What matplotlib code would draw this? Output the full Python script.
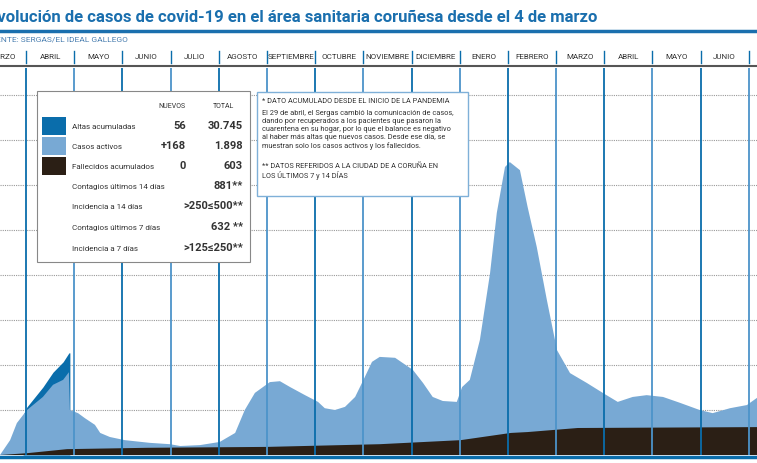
import matplotlib
matplotlib.use("Agg")
import matplotlib.pyplot as plt
from matplotlib.patches import Rectangle
import matplotlib.transforms as mtransforms

plt.rcParams['font.family'] = ['Roboto', 'DejaVu Sans']

# month position (0 = 1 March 2020) and values (thousands)
months = ['MARZO', 'ABRIL', 'MAYO', 'JUNIO', 'JULIO', 'AGOSTO', 'SEPTIEMBRE', 'OCTUBRE',
          'NOVIEMBRE', 'DICIEMBRE', 'ENERO', 'FEBRERO', 'MARZO', 'ABRIL', 'MAYO', 'JUNIO', 'JULIO']

active_x = [0.46, 0.67, 0.81, 0.94, 1.02, 1.35, 1.56, 1.77, 1.89, 1.91, 2.08, 2.22, 2.43, 2.54,
            2.74, 3.05, 3.57, 3.99, 4.20, 4.61, 5.02, 5.34, 5.54, 5.75, 6.06, 6.27, 6.48, 6.79,
            7.06, 7.20, 7.41, 7.62, 7.83, 8.03, 8.18, 8.34, 8.66, 9.03, 9.24, 9.44, 9.65, 9.94,
            10.05, 10.21, 10.42, 10.63, 10.77, 10.94, 11.04, 11.25, 11.41, 11.60, 11.81, 12.02,
            12.29, 12.64, 12.97, 13.28, 13.59, 13.88, 14.22, 14.57, 14.98, 15.25, 15.61, 15.96, 16.17]
active_v = [0, 0.33, 0.71, 0.89, 1.0, 1.29, 1.56, 1.67, 1.84, 1.0, 0.93, 0.82, 0.67, 0.49,
            0.40, 0.33, 0.27, 0.24, 0.20, 0.22, 0.29, 0.49, 1.0, 1.38, 1.62, 1.64, 1.51, 1.33,
            1.18, 1.04, 1.0, 1.07, 1.29, 1.73, 2.07, 2.18, 2.16, 1.89, 1.60, 1.29, 1.20, 1.18,
            1.51, 1.67, 2.56, 4.04, 5.38, 6.40, 6.51, 6.33, 5.51, 4.62, 3.44, 2.33,
            1.82, 1.60, 1.38, 1.18, 1.29, 1.33, 1.29, 1.16, 1.00, 0.93, 1.04, 1.11, 1.27]

altas_x = [0.94, 1.02, 1.35, 1.56, 1.77, 1.89, 1.91]
altas_v = [0.89, 1.07, 1.51, 1.84, 2.07, 2.27, 2.27]

deaths_x = [0.46, 1.02, 1.85, 3.51, 6.0, 8.34, 10.02, 11.06, 11.41, 12.45, 16.17]
deaths_v = [0, 0.04, 0.13, 0.16, 0.18, 0.24, 0.33, 0.49, 0.51, 0.60, 0.62]

legend_rows = [('Altas acumuladas', '56', '30.745'),
               ('Casos activos', '+168', '1.898'),
               ('Fallecidos acumulados', '0', '603'),
               ('Contagios últimos 14 días', '', '881**'),
               ('Incidencia a 14 días', '', '>250≤500**'),
               ('Contagios últimos 7 días', '', '632 **'),
               ('Incidencia a 7 días', '', '>125≤250**')]

notes = ['* DATO ACUMULADO DESDE EL INICIO DE LA PANDEMIA',
         'El 29 de abril, el Sergas cambió la comunicación de casos,\n'
         'dando por recuperados a los pacientes que pasaron la\n'
         'cuarentena en su hogar, por lo que el balance es negativo\n'
         'al haber más altas que nuevos casos. Desde ese día, se\n'
         'muestran solo los casos activos y los fallecidos.',
         '** DATOS REFERIDOS A LA CIUDAD DE A CORUÑA EN\nLOS ÚLTIMOS 7 y 14 DÍAS']

C_LIGHT = '#78a9d4'
C_DARK = '#0a6dab'
C_BROWN = '#2b1f15'
C_TITLE = '#1a6fae'

W, H = 757, 463
fig = plt.figure(figsize=(W / 100, H / 100), dpi=100)

def fx(px):
    return px / W

def fy(py):
    return 1 - py / H

ax = fig.add_axes([0, fy(455), 1, fy(68) - fy(455)])
ax.set_xlim(0.46, 16.17)
ax.set_ylim(0, 8.6)
ax.axis('off')

for v in range(1, 9):
    ax.axhline(v, color='#999999', lw=0.8, ls=(0, (1, 1)), zorder=1)

ax.fill_between(altas_x, 0, altas_v, color=C_DARK, lw=0, zorder=2)
ax.fill_between(active_x, 0, active_v, color=C_LIGHT, lw=0, zorder=3)
ax.fill_between(deaths_x, 0, deaths_v, color=C_BROWN, lw=0, zorder=4)

for m in range(1, 17):
    ax.axvline(m, color=C_DARK if m % 2 else '#4c93c9', lw=1.3, zorder=5)

# header
fig.text(fx(-12), fy(18), 'Evolución de casos de covid-19 en el área sanitaria coruñesa desde el 4 de marzo',
         color=C_TITLE, fontsize=12, fontweight='bold', va='center', ha='left')
fig.add_artist(plt.Line2D([0, 1], [fy(31), fy(31)], color=C_TITLE, lw=2.5))
fig.text(fx(-14), fy(39), 'FUENTE: SERGAS/EL IDEAL GALLEGO', color='#4a7fb0', fontsize=6, va='center')

trans = mtransforms.blended_transform_factory(ax.transData, fig.transFigure)
for i, name in enumerate(months):
    ax.text(i + 0.5, fy(57), name, transform=trans, ha='center', va='center',
            fontsize=5.8, color='#333333', clip_on=False)
    if i > 0:
        fig.add_artist(plt.Line2D([i, i], [fy(51), fy(63)], color=C_DARK, lw=1, transform=trans))
fig.add_artist(plt.Line2D([0, 1], [fy(66), fy(66)], color='#555555', lw=1.5))
fig.add_artist(plt.Line2D([0, 1], [fy(456.5), fy(456.5)], color=C_DARK, lw=2.5))

# legend box
fig.add_artist(Rectangle((fx(37), fy(262)), fx(250) - fx(37), fy(91) - fy(262),
                         facecolor='white', edgecolor='#888888', lw=0.8, zorder=10))
fig.text(fx(172), fy(107), 'NUEVOS', fontsize=5, color='#333333', ha='center', va='center', zorder=11)
fig.text(fx(223), fy(107), 'TOTAL', fontsize=5, color='#333333', ha='center', va='center', zorder=11)
swatches = [C_DARK, C_LIGHT, C_BROWN]
row_y = [126, 146, 166, 186, 206, 227, 248]
for i, (lab, new, tot) in enumerate(legend_rows):
    y = row_y[i]
    if i < 3:
        fig.add_artist(Rectangle((fx(42), fy(y + 9)), fx(24), fy(0) - fy(18),
                                 facecolor=swatches[i], lw=0, zorder=11))
    fig.text(fx(72), fy(y + 1), lab, fontsize=5.8, color='#333333', va='center', zorder=11)
    if new:
        fig.text(fx(186), fy(y), new, fontsize=8, fontweight='bold', color='#333333',
                 va='center', ha='right', zorder=11)
    fig.text(fx(243), fy(y), tot, fontsize=8, fontweight='bold', color='#333333',
             va='center', ha='right', zorder=11)

# notes box
fig.add_artist(Rectangle((fx(257), fy(196)), fx(468) - fx(257), fy(92) - fy(196),
                         facecolor='white', edgecolor='#7fb0d8', lw=1, zorder=10))
fig.text(fx(262), fy(101), notes[0], fontsize=5.3, color='#333333', va='center', zorder=11)
fig.text(fx(262), fy(110), notes[1], fontsize=5.3, color='#333333', va='top', zorder=11,
         linespacing=1.2)
fig.text(fx(262), fy(163), notes[2], fontsize=5.3, color='#333333', va='top', zorder=11,
         linespacing=1.2)

fig.savefig('out.png', dpi=100)
